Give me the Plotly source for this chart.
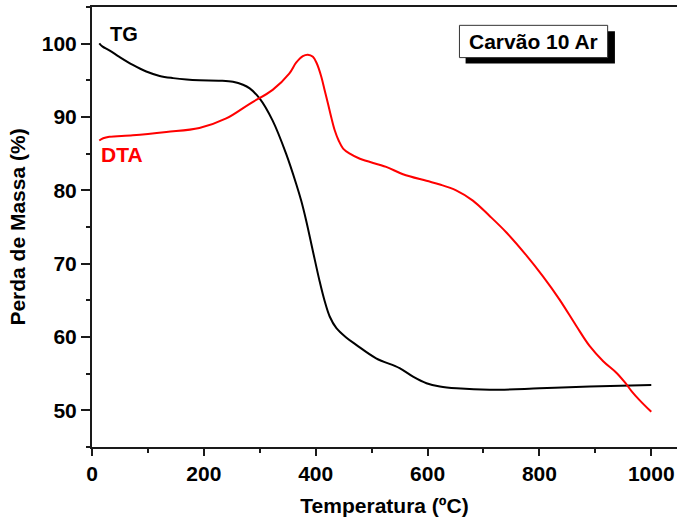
import plotly.graph_objects as go

# Thermogravimetric (TG) curve: temperature (ºC) vs. mass (%)
tg_temp = [13, 19, 31, 49, 73, 97, 121, 145, 169, 192, 230, 252, 270, 282, 300, 323,
           347, 365, 374, 383, 395, 407, 416, 425, 437, 455, 473, 508, 550, 574, 598,
           622, 652, 711, 800, 890, 1000]
tg_mass = [100.05, 99.6, 99.1, 98.2, 97.1, 96.2, 95.6, 95.3, 95.1, 95.0, 94.95, 94.8,
           94.4, 93.9, 92.5, 89.5, 85.0, 80.9, 78.6, 75.85, 71.7, 67.6, 64.9, 62.8,
           61.2, 59.9, 58.9, 57.1, 55.75, 54.6, 53.7, 53.25, 53.0, 52.8, 53.0, 53.25,
           53.45]

# Differential thermal analysis (DTA) curve, on the same scale
dta_temp = [13, 20, 31, 73, 133, 192, 240, 282, 323, 353, 365, 377, 386, 395, 402,
            410, 416, 422, 428, 434, 441, 449, 461, 479, 526, 556, 598, 622, 651, 681,
            711, 741, 777, 806, 836, 866, 890, 914, 938, 954, 965, 979, 1000]
dta_val = [86.8, 87.1, 87.3, 87.5, 87.95, 88.5, 89.8, 91.8, 93.7, 95.95, 97.4, 98.3,
           98.5, 98.2, 97.3, 95.5, 93.65, 91.8, 89.9, 88.2, 86.8, 85.7, 85.0, 84.3,
           83.2, 82.2, 81.3, 80.8, 80.0, 78.6, 76.5, 74.25, 71.1, 68.3, 65.1, 61.5,
           58.75, 56.7, 55.1, 53.7, 52.6, 51.4, 49.8]

x_ticks = [0, 200, 400, 600, 800, 1000]
y_ticks = [50, 60, 70, 80, 90, 100]

FONT = "Liberation Sans, Arial, Helvetica, sans-serif"
AXIS_COLOR = "#1a1a1a"

fig = go.Figure()
fig.add_trace(go.Scatter(x=tg_temp, y=tg_mass, mode="lines", name="TG",
                         line=dict(color="black", width=2, shape="spline", smoothing=1.0)))
fig.add_trace(go.Scatter(x=dta_temp, y=dta_val, mode="lines", name="DTA",
                         line=dict(color="#ff0000", width=2, shape="spline", smoothing=1.0)))

# Curve labels
fig.add_annotation(x=58, y=101.3, text="<b>TG</b>", showarrow=False,
                   font=dict(family=FONT, size=20, color="black"))
fig.add_annotation(x=54, y=84.9, text="<b>DTA</b>", showarrow=False,
                   font=dict(family=FONT, size=21, color="#ff0000"))

# Sample name in a framed box with a drop shadow
fig.add_shape(type="rect", x0=668, x1=935, y0=97.3, y1=101.7,
              fillcolor="black", line=dict(width=0), layer="above")
fig.add_shape(type="rect", x0=657, x1=922, y0=98.1, y1=102.5,
              fillcolor="white", line=dict(color="#333333", width=1), layer="above")
fig.add_annotation(x=790, y=100.3, text="<b>Carvão 10 Ar</b>", showarrow=False,
                   font=dict(family=FONT, size=21, color="black"))

fig.update_layout(
    width=677, height=525,
    margin=dict(l=92, r=0, t=7, b=78),
    paper_bgcolor="white", plot_bgcolor="white",
    showlegend=False,
    font=dict(family=FONT, color="black"),
)

fig.update_xaxes(
    range=[0, 1046], tickvals=x_ticks, ticktext=[str(v) for v in x_ticks],
    ticks="outside", ticklen=7, tickwidth=2, tickcolor=AXIS_COLOR,
    minor=dict(dtick=100, tick0=0, ticks="outside", ticklen=4, tickwidth=2,
               tickcolor=AXIS_COLOR, showgrid=False),
    showline=True, linewidth=2, linecolor=AXIS_COLOR, mirror=True,
    showgrid=False, zeroline=False,
    tickfont=dict(family=FONT, size=21, weight="bold"),
    title=dict(text="<b>Temperatura (ºC)</b>", font=dict(family=FONT, size=21), standoff=14),
)
fig.update_yaxes(
    range=[45, 105], tickvals=y_ticks, ticktext=[str(v) for v in y_ticks],
    ticks="outside", ticklen=9, tickwidth=2, tickcolor=AXIS_COLOR,
    minor=dict(dtick=5, tick0=45, ticks="outside", ticklen=4, tickwidth=2,
               tickcolor=AXIS_COLOR, showgrid=False),
    showline=True, linewidth=2, linecolor=AXIS_COLOR, mirror=False,
    showgrid=False, zeroline=False,
    tickfont=dict(family=FONT, size=21, weight="bold"),
    title=dict(text="<b>Perda de Massa (%)</b>", font=dict(family=FONT, size=21), standoff=10),
)

fig.write_html("out.html")
